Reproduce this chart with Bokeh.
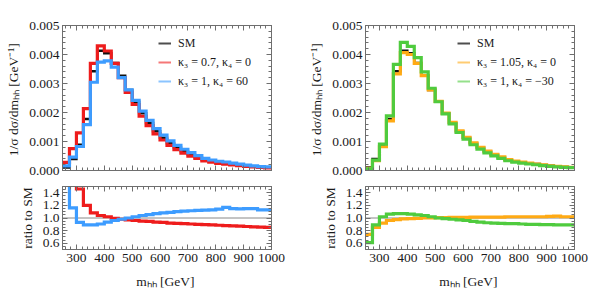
from bokeh.plotting import figure
from bokeh.layouts import column, row
from bokeh.models import (Range1d, FixedTicker, LinearAxis, Legend, LegendItem,
                          Span, PrintfTickFormatter)
from bokeh.embed import file_html
from bokeh.resources import INLINE

# ---------------- data ----------------
BIN_EDGES = list(range(250, 1001, 25))          # 30 bins of 25 GeV
SM = [0.00010, 0.00040, 0.00089, 0.00178, 0.00342, 0.00413, 0.00404, 0.00371,
      0.00327, 0.00278, 0.00237, 0.00197, 0.00164, 0.00135, 0.00113, 0.00094,
      0.00079, 0.00066, 0.00055, 0.00046, 0.00037, 0.00032, 0.00028, 0.00025,
      0.00022, 0.00019, 0.00016, 0.00014, 0.00012, 0.00011]
RATIO_K3_07 = [2.80, 1.88, 1.46, 1.20, 1.08, 1.04, 1.02, 0.995, 0.98, 0.97,
               0.96, 0.95, 0.945, 0.935, 0.93, 0.92, 0.915, 0.91, 0.905, 0.90,
               0.895, 0.89, 0.885, 0.88, 0.875, 0.87, 0.865, 0.86, 0.855, 0.85]
RATIO_K4_60 = [1.60, 1.16, 0.93, 0.89, 0.89, 0.905, 0.935, 0.96, 0.98, 1.00,
               1.02, 1.04, 1.055, 1.07, 1.08, 1.09, 1.10, 1.11, 1.115, 1.12,
               1.125, 1.13, 1.14, 1.17, 1.15, 1.145, 1.15, 1.15, 1.13, 1.13]
RATIO_K3_105 = [0.74, 0.85, 0.92, 0.96, 0.975, 0.985, 0.99, 0.995, 1.0, 1.0,
                1.005, 1.005, 1.01, 1.01, 1.01, 1.015, 1.015, 1.015, 1.015, 1.015,
                1.02, 1.02, 1.02, 1.02, 1.02, 1.02, 1.025, 1.03, 1.02, 1.02]
RATIO_K4_M30 = [0.61, 0.89, 1.02, 1.06, 1.07, 1.07, 1.06, 1.05, 1.04, 1.02,
                1.00, 0.99, 0.98, 0.97, 0.96, 0.945, 0.935, 0.925, 0.92, 0.915,
                0.91, 0.91, 0.905, 0.90, 0.90, 0.895, 0.895, 0.89, 0.89, 0.89]

X_TICKS = [300, 400, 500, 600, 700, 800, 900, 1000]
X_MINOR = list(range(260, 1001, 20))
Y_TICKS_TOP = [0.0, 0.001, 0.002, 0.003, 0.004, 0.005]
Y_MINOR_TOP = [i * 0.0002 for i in range(26)]
Y_TICKS_RATIO = [0.6, 0.8, 1.0, 1.2, 1.4]
Y_MINOR_RATIO = [0.5 + i * 0.05 for i in range(21)]

LEFT_LABELS = ["SM", "κ₃ = 0.7, κ₄ = 0", "κ₃ = 1, κ₄ = 60"]
RIGHT_LABELS = ["SM", "κ₃ = 1.05, κ₄ = 0", "κ₃ = 1, κ₄ = −30"]

# ---------------- style ----------------
FONT = "Liberation Serif"
FRAME = "#6e6e6e"
C_SM = "#111111"
C_RED = "#ee1c1c"
C_BLUE = "#3d9cff"
C_ORANGE = "#ffaa14"
C_GREEN = "#4fcb3e"


def ext(v):
    return list(v) + [v[-1]]


def style_axis(ax, ticks, minor, show_labels, fmt=None):
    ax.ticker = FixedTicker(ticks=ticks, minor_ticks=minor)
    ax.axis_line_color = FRAME
    ax.major_tick_line_color = FRAME
    ax.minor_tick_line_color = FRAME
    ax.major_tick_in = 5
    ax.major_tick_out = 0
    ax.minor_tick_in = 3
    ax.minor_tick_out = 0
    if show_labels:
        ax.major_label_text_font = FONT
        ax.major_label_text_font_size = "13.5px"
        ax.major_label_text_color = "#1a1a1a"
        ax.major_label_standoff = 3
        if fmt:
            ax.formatter = PrintfTickFormatter(format=fmt)
    else:
        ax.major_label_text_font_size = "1px"
        ax.major_label_text_color = None
        ax.major_label_standoff = 0
        ax.axis_label = None


def make_fig(width, height, yr, top, bottom, left, right):
    p = figure(width=width, height=height, output_backend="svg",
               toolbar_location=None, x_range=Range1d(250, 1000), y_range=yr,
               min_border_left=left, min_border_right=right,
               min_border_top=top, min_border_bottom=bottom)
    p.grid.visible = False
    p.outline_line_color = FRAME
    p.background_fill_color = "white"
    p.border_fill_color = "white"
    return p


def add_frame_axes(p, xt, xm, yt, ym):
    ra = LinearAxis()
    style_axis(ra, yt, ym, False)
    p.add_layout(ra, "right")
    ta = LinearAxis()
    style_axis(ta, xt, xm, False)
    p.add_layout(ta, "above")


def label_style(ax, text, standoff=5):
    ax.axis_label = text
    ax.axis_label_text_font = FONT
    ax.axis_label_text_font_style = "normal"
    ax.axis_label_text_font_size = "13.5px"
    ax.axis_label_text_color = "#1a1a1a"
    ax.axis_label_standoff = standoff


def panel(left_border, right_border, ratios, colors, labels, leg_x):
    width = left_border + 209 + right_border
    # --- top distribution panel ---
    p = make_fig(width, 178, Range1d(0, 0.005), 25, 8, left_border, right_border)
    style_axis(p.xaxis[0], X_TICKS, X_MINOR, False)
    style_axis(p.yaxis[0], Y_TICKS_TOP, Y_MINOR_TOP, True, "%.3f")
    label_style(p.yaxis[0], "1/σ dσ/dmₕₕ  [GeV⁻¹]")
    add_frame_axes(p, X_TICKS, X_MINOR, Y_TICKS_TOP, Y_MINOR_TOP)

    p.step(BIN_EDGES, ext(SM), mode="after", line_color=C_SM, line_width=2.5,
           line_join="miter")
    for r, c in zip(ratios, colors):
        vals = [s * k for s, k in zip(SM, r)]
        p.step(BIN_EDGES, ext(vals), mode="after", line_color=c, line_width=3.2,
               line_join="miter")

    # legend swatches (kept outside the visible range, lighter like reference)
    leg_renderers = []
    for c, a in zip([C_SM] + colors, [0.75, 0.6, 0.6]):
        leg_renderers.append(p.line(x=[0, 1], y=[-1, -1], line_color=c,
                                    line_width=2, line_alpha=a))
    legend = Legend(items=[LegendItem(label=l, renderers=[r])
                           for l, r in zip(labels, leg_renderers)],
                    location=(leg_x, 81))
    legend.label_text_font = FONT
    legend.label_text_font_size = "12px"
    legend.label_text_color = "#1a1a1a"
    legend.glyph_width = 13
    legend.glyph_height = 16
    legend.label_height = 16
    legend.label_standoff = 7
    legend.spacing = 3
    legend.padding = 0
    legend.margin = 0
    legend.border_line_alpha = 0
    legend.background_fill_alpha = 0
    p.add_layout(legend)

    # --- ratio panel ---
    q = make_fig(width, 117, Range1d(0.5, 1.5), 8, 46, left_border, right_border)
    style_axis(q.xaxis[0], X_TICKS, X_MINOR, True)
    q.xaxis[0].major_label_standoff = 4
    label_style(q.xaxis[0], "mₕₕ  [GeV]", standoff=9)
    style_axis(q.yaxis[0], Y_TICKS_RATIO, Y_MINOR_RATIO, True, "%.1f")
    label_style(q.yaxis[0], "ratio to SM")
    add_frame_axes(q, X_TICKS, X_MINOR, Y_TICKS_RATIO, Y_MINOR_RATIO)
    q.add_layout(Span(location=1.0, dimension="width", line_color="#888888",
                      line_width=1, level="underlay"))
    for r, c in zip(ratios, colors):
        q.step(BIN_EDGES, ext(r), mode="after", line_color=c, line_width=3.2,
               line_join="miter")
    return column(p, q)


left = panel(62, 27, [RATIO_K3_07, RATIO_K4_60], [C_RED, C_BLUE], LEFT_LABELS, 96)
right = panel(67, 24, [RATIO_K3_105, RATIO_K4_M30], [C_ORANGE, C_GREEN],
              RIGHT_LABELS, 92)
page = row(left, right)

open("out.html", "w").write(file_html(page, INLINE))
